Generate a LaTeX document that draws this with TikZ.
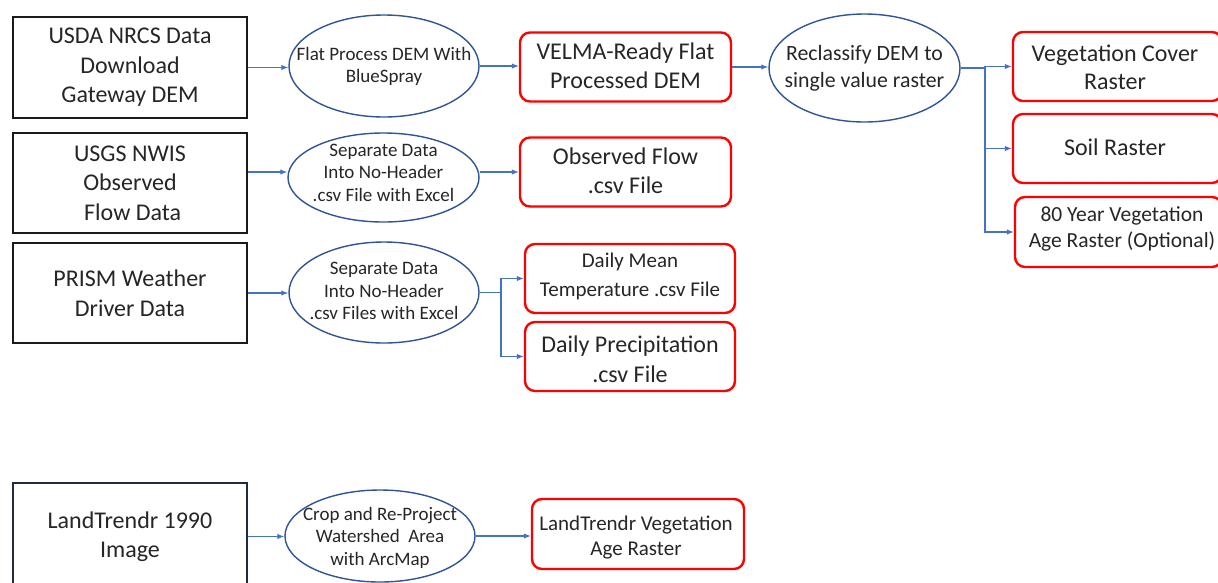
\documentclass[tikz,border=0pt]{standalone}
\usepackage{fontspec}
\setmainfont{Carlito}
\usetikzlibrary{shapes.geometric,arrows.meta}
\definecolor{txt}{HTML}{262626}
\definecolor{boxline}{HTML}{1A1A1A}
\definecolor{navy}{HTML}{1F2A44}
\definecolor{ellline}{HTML}{2F5597}
\definecolor{arrcol}{HTML}{4472C4}
\definecolor{redline}{HTML}{FF0000}
\tikzset{
  srcbox/.style={draw=boxline, line width=2.6pt, fill=white, inner sep=0pt, align=center, text=txt,
    font=\fontsize{24}{29.5}\selectfont},
  procell/.style={ellipse, draw=ellline, line width=1.4pt, inner sep=0pt},
  proctext/.style={align=center, text=txt, inner sep=0pt, font=\fontsize{19}{22.5}\selectfont},
  outbox/.style={draw=redline, line width=2.4pt, rounded corners=10pt, inner sep=0pt, align=center, text=txt,
    minimum width=211pt, minimum height=69pt},
  outtext/.style={align=center, text=txt, inner sep=0pt},
  big/.style={font=\fontsize{24}{28.5}\selectfont},
  mid/.style={font=\fontsize{21.5}{26}\selectfont},
  flow/.style={draw=arrcol, line width=1.1pt, -{Latex[length=7pt,width=5.5pt]}},
  flowline/.style={draw=arrcol, line width=1.1pt}
}
\begin{document}
\begin{tikzpicture}[x=1pt,y=-1pt]
\useasboundingbox[fill=white] (0,0) rectangle (1218,582);

% source boxes
\node[srcbox, minimum width=234pt, minimum height=101pt] (b1) at (130,67.5) {USDA NRCS Data\\Download\\Gateway DEM};
\node[srcbox, minimum width=234pt, minimum height=100pt] (b2) at (130,183) {USGS NWIS\\Observed\\\ Flow Data};
\node[srcbox, minimum width=234pt, minimum height=100pt] (b3) at (130,293) {PRISM Weather\\Driver Data};
\node[srcbox, draw=navy, minimum width=234pt, minimum height=107pt] (b4) at (130,536.5) {LandTrendr 1990\\Image};

% process ellipses
\node[procell, minimum width=190pt, minimum height=102pt] (e1) at (384,66) {};
\node[proctext] (t1) at (384,66.5) {Flat Process DEM With\\BlueSpray};
\node[procell, minimum width=191pt, minimum height=89pt] (e2) at (383.5,177.5) {};
\node[proctext] (t2) at (383.5,172.5) {Separate Data\\Into No-Header\\.csv File with Excel};
\node[procell, minimum width=190pt, minimum height=101pt] (e3) at (384,292.5) {};
\node[proctext] (t3) at (384,291) {Separate Data\\Into No-Header\\.csv Files with Excel};
\node[procell, minimum width=190pt, minimum height=92pt] (e4) at (380,536) {};
\node[proctext] (t4) at (380,537.5) {Crop and Re-Project\\Watershed~ Area\\with ArcMap};
\node[procell, minimum width=191pt, minimum height=108pt] (e5) at (864.5,68) {};
\node[proctext, font=\fontsize{21.8}{27}\selectfont] (t5) at (864.5,68.5) {Reclassify DEM to\\single value raster};

% output boxes
\node[outbox] (r1) at (625.5,67) {};
\node[outtext, big] at (625.5,66) {VELMA-Ready Flat\\Processed DEM};
\node[outbox] (r2) at (625.5,172) {};
\node[outtext, big] at (625.5,171) {Observed Flow\\.csv File};
\node[outbox, minimum width=210pt] (r3) at (630,278.5) {};
\node[outtext, font=\fontsize{21}{29}\selectfont] at (630,276.5) {Daily Mean\\Temperature .csv File};
\node[outbox, minimum width=210pt] (r4) at (630,356.5) {};
\node[outtext, font=\fontsize{24}{30}\selectfont] at (630,359) {Daily Precipitation\\.csv File};
\node[outbox, minimum width=209pt] (r5) at (1117.5,66.5) {};
\node[outtext, big] at (1115,67.5) {Vegetation Cover\\Raster};
\node[outbox, minimum width=209pt] (r6) at (1117.5,148.5) {};
\node[outtext, big] at (1115,147) {Soil Raster};
\node[outbox, minimum width=207pt, minimum height=70pt] (r7) at (1118.5,232) {};
\node[outtext, mid] at (1122,229) {80 Year Vegetation\\Age Raster (Optional)};
\node[outbox, minimum width=212pt, minimum height=70pt] (r8) at (638,534) {};
\node[outtext, font=\fontsize{21}{25}\selectfont] at (636,537.5) {LandTrendr Vegetation\\Age Raster};

% connectors
\draw[flow] (b1.east) -- (b1.east -| e1.west);
\draw[flow] (e1.east) -- (e1.east -| r1.west);
\draw[flow] (r1.east) -- (r1.east -| e5.west);
\coordinate (j1) at (985,68);
\draw[flowline] (e5.east) -- (j1);
\draw[flow] (j1) |- (r5.west);
\draw[flow] (j1) |- (r6.west);
\draw[flow] (j1) |- (r7.west);

\draw[flow] (b2.east |- r2.west) -- (r2.west -| e2.west);
\draw[flow] (e2.east |- r2.west) -- (r2.west);

\draw[flow] (b3.east) -- (b3.east -| e3.west);
\coordinate (j2) at (501,292.5);
\draw[flowline] (e3.east) -- (j2);
\draw[flow] (j2) |- (r3.west);
\draw[flow] (j2) |- (r4.west);

\draw[flow] (b4.east) -- (b4.east -| e4.west);
\draw[flow] (e4.east) -- (e4.east -| r8.west);
\end{tikzpicture}
\end{document}
